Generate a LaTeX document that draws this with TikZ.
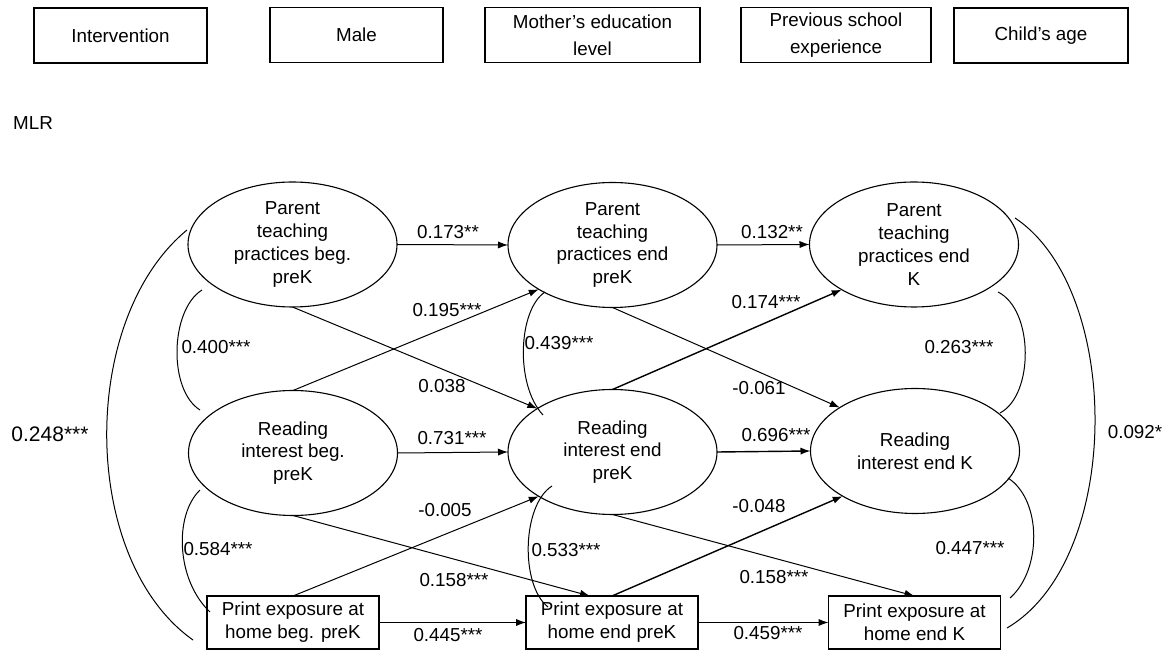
\documentclass[tikz,border=0pt]{standalone}
\usepackage{fontspec}
\setmainfont{Liberation Sans}
\usetikzlibrary{arrows.meta,shapes.geometric}
\begin{document}
\begin{tikzpicture}[x=0.5pt,y=-0.5pt,
  every node/.style={font=\fontsize{9.4}{11.35}\selectfont, inner sep=0pt, outer sep=0pt},
  topbox/.style={draw, line width=0.6pt, align=center, minimum height=27.5pt, font=\fontsize{9.4}{13.5}\selectfont},
  ellbox/.style={draw, ellipse, line width=0.55pt, minimum width=104.5pt, minimum height=62.5pt},
  prbox/.style={draw, line width=0.65pt, minimum width=86pt, minimum height=26.5pt, align=center, font=\fontsize{9.4}{11.5}\selectfont},
  txt/.style={align=center},
  conn/.style={line width=0.5pt, -{Latex[length=5pt,width=3.6pt]}},
  bold conn/.style={conn, line width=0.7pt},
  cov/.style={line width=0.5pt},
  biglab/.style={font=\fontsize{10.5}{12}\selectfont}]
\useasboundingbox (0,0) rectangle (1168,651);

% covariates
\node[topbox, minimum width=86.5pt] (int) at (120.5,35.5) {Intervention};
\node[topbox, minimum width=86.5pt] (male) at (356.5,35) {Male};
\node[topbox, minimum width=107.5pt] (moth) at (592.5,35) {Mother’s education\\level};
\node[topbox, minimum width=95pt] (prev) at (836,35) {Previous school\\experience};
\node[topbox, minimum width=87pt] (age) at (1041,35.5) {Child’s age};
\node (mlr) at (33,123) {MLR};

% latent ellipses
\node[ellbox] (pb) at (292.5,244.5) {};
\node[txt] (pbt) at (pb.center) {Parent\\teaching\\practices beg.\\preK};
\node[ellbox] (pe) at (612.5,245) {};
\node[txt] (pet) at (pe.center) {Parent\\teaching\\practices end\\preK};
\node[ellbox] (pk) at (914,244.5) {};
\node[txt] (pkt) at (pk.center) {Parent\\teaching\\practices end\\K};
\node[ellbox] (rb) at (293,453) {};
\node[txt] (rbt) at (rb.center) {Reading\\interest beg.\\preK};
\node[ellbox] (re) at (612.5,452) {};
\node[txt] (ret) at (re.center) {Reading\\interest end\\preK};
\node[ellbox] (rk) at (915,451) {};
\node[txt] (rkt) at (rk.center) {Reading\\interest end K};

% print exposure boxes
\node[prbox] (xb) at (293,622.5) {Print exposure at\\home beg. preK};
\node[prbox] (xe) at (612,622.5) {Print exposure at\\home end preK};
\node[prbox] (xk) at (914.5,622.5) {Print exposure at\\home end K};

% horizontal paths
\draw[conn] (pb.east) -- (pe.west);
\draw[conn] (pe.east) -- (pk.west);
\draw[conn] (rb.east) -- (re.west);
\draw[bold conn] (re.east) -- (rk.west);
\draw[conn] (xb.east) -- (xe.west);
\draw[conn] (xe.east) -- (xk.west);

% cross-lagged paths
\draw[conn] (pb.south) -- (re.150);
\draw[conn] (rb.north) -- (pe.211);
\draw[conn] (pe.south) -- (rk.150);
\draw[bold conn] (re.north) -- (pk.212);
\draw[conn] (rb.south) -- ([xshift=-11pt]xe.north);
\draw[conn] (xb.north) -- (re.211);
\draw[conn] (re.south) -- (xk.north);
\draw[bold conn] (xe.north) -- (rk.212);

% covariance curves
\coordinate (a1) at (202,290); \coordinate (a2) at (200,410);
\coordinate (b1) at (200,490); \coordinate (b2) at (210,612);
\coordinate (c1) at (187,230); \coordinate (c2) at (193,640);
\coordinate (d1) at (545,292); \coordinate (d2) at (543,415);
\coordinate (e1) at (552,486); \coordinate (e2) at (548,607);
\coordinate (f1) at (998,292); \coordinate (f2) at (1000,413);
\coordinate (g1) at (1008,478); \coordinate (g2) at (1010,598);
\coordinate (h1) at (1015,218); \coordinate (h2) at (1007,628);
\draw[cov] (a1) .. controls (170,310) and (168,390) .. (a2);
\draw[cov] (b1) .. controls (174,515) and (176,580) .. (b2);
\draw[cov] (c1) .. controls (78,320) and (80,560) .. (c2);
\draw[cov] (d1) .. controls (518,310) and (515,385) .. (d2);
\draw[cov] (e1) .. controls (522,505) and (520,585) .. (e2);
\draw[cov] (f1) .. controls (1034,310) and (1034,395) .. (f2);
\draw[cov] (g1) .. controls (1042,500) and (1042,570) .. (g2);
\draw[cov] (h1) .. controls (1123,290) and (1123,560) .. (h2);

% labels
\node (l1) at (448,232) {0.173**};
\node (l2) at (772,232) {0.132**};
\node (l3) at (452,438) {0.731***};
\node (l4) at (776,435) {0.696***};
\node (l5) at (448,635) {0.445***};
\node (l6) at (768,633) {0.459***};
\node (l7) at (447,310) {0.195***};
\node (l8) at (442,386) {0.038};
\node (l9) at (216,347) {0.400***};
\node (l10) at (559,343) {0.439***};
\node (l11) at (766,302) {0.174***};
\node (l12) at (759,388) {-0.061};
\node (l13) at (959,347) {0.263***};
\node (l14) at (970,548) {0.447***};
\node (l15) at (1135,432) {0.092*};
\node[biglab] (l16) at (50,434) {0.248***};
\node (l17) at (445,510) {-0.005};
\node (l18) at (218,549) {0.584***};
\node (l19) at (454,580) {0.158***};
\node (l20) at (566,550) {0.533***};
\node (l21) at (759,506) {-0.048};
\node (l22) at (774,577) {0.158***};
\end{tikzpicture}
\end{document}
